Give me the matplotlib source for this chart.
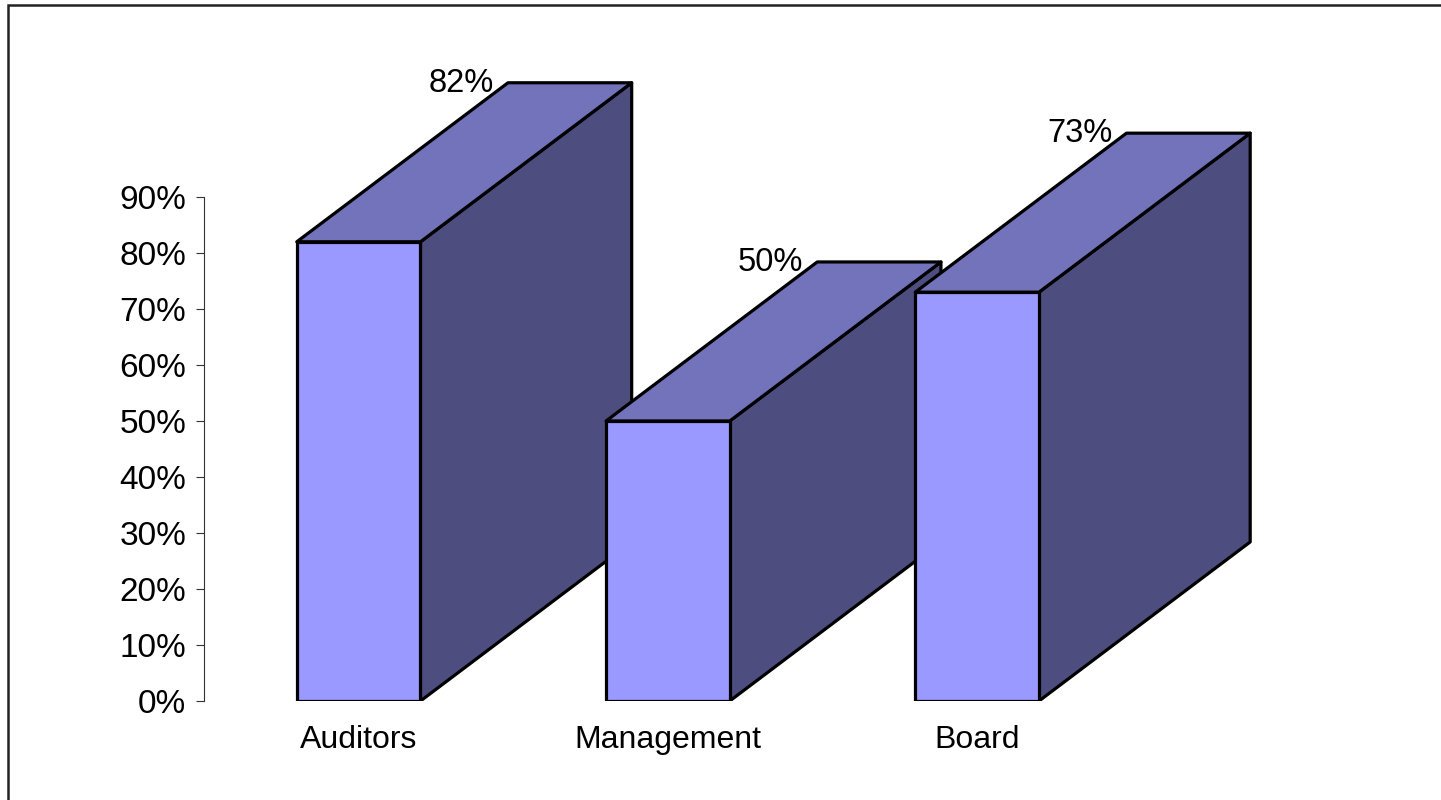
import matplotlib
matplotlib.use("Agg")
import matplotlib.pyplot as plt
from matplotlib.patches import Polygon, Rectangle
from matplotlib.ticker import PercentFormatter

# survey share per group
categories = ["Auditors", "Management", "Board"]
values = [0.82, 0.50, 0.73]
yticks = [0.0, 0.1, 0.2, 0.3, 0.4, 0.5, 0.6, 0.7, 0.8, 0.9]

plt.rcParams["font.family"] = ["Liberation Sans", "DejaVu Sans"]

FRONT = "#9999FF"
TOP = "#7373BB"
SIDE = "#4D4D80"
W = 0.40      # bar width in category units
DX = 0.683    # depth offset, x (category units)
DY = 0.284    # depth offset, y (value units)

fig = plt.figure(figsize=(14.41, 8.0), dpi=100)
ax = fig.add_axes([204 / 1441, 99 / 800, 1237 / 1441, 701 / 800])
ax.set_xlim(-0.5, 3.5)
ax.set_ylim(0, 701 / 560)

# outer chart border
fig.patches.append(Rectangle((8 / 1441, -0.1), 1.2, 1.1 - 5 / 800, transform=fig.transFigure,
                             fill=False, edgecolor="#222222", linewidth=1.8))

for i, v in enumerate(values):
    l, r = i - W / 2, i + W / 2
    side = [(r, 0), (r + DX, DY), (r + DX, v + DY), (r, v)]
    top = [(l, v), (r, v), (r + DX, v + DY), (l + DX, v + DY)]
    front = [(l, 0), (r, 0), (r, v), (l, v)]
    for pts, c in ((side, SIDE), (top, TOP), (front, FRONT)):
        ax.add_patch(Polygon(pts, closed=True, facecolor=c, edgecolor="black",
                             linewidth=2.3, joinstyle="round"))
    ax.annotate(f"{v:.0%}", (l + DX, v + DY), xytext=(-10, -6.5), textcoords="offset points",
                ha="right", va="baseline", fontsize=23.5)

for s in ("top", "right", "bottom"):
    ax.spines[s].set_visible(False)
ax.spines["left"].set_bounds(0, 0.9)
ax.spines["left"].set_color("#333333")
ax.spines["left"].set_linewidth(0.8)

ax.set_yticks(yticks)
ax.yaxis.set_major_formatter(PercentFormatter(1.0, decimals=0))
ax.tick_params(axis="y", direction="out", length=5.8, width=0.8, color="#333333",
               pad=7, labelsize=24)
ax.set_xticks(range(len(categories)))
ax.set_xticklabels(categories)
ax.tick_params(axis="x", length=0, pad=17, labelsize=23)

fig.savefig("out.png", dpi=100)
